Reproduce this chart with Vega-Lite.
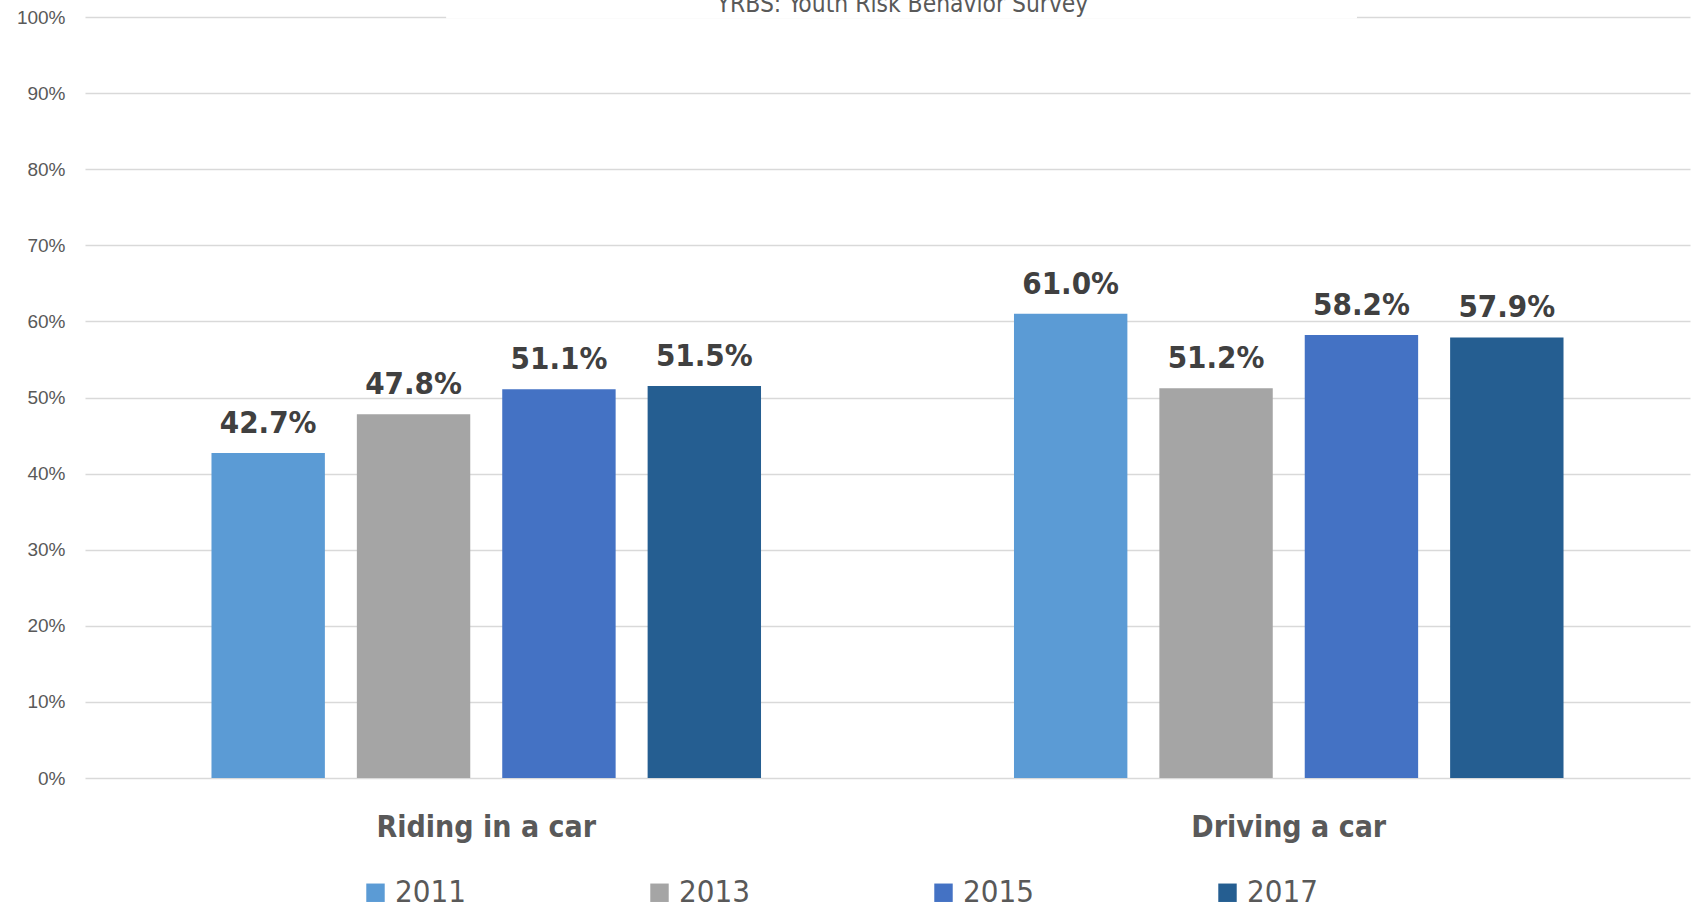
{
  "$schema": "https://vega.github.io/schema/vega-lite/v6.json",
  "autosize": "none",
  "width": 1605,
  "height": 761,
  "padding": {"left": 85, "top": 17, "right": 2, "bottom": 132},
  "background": "white",
  "title": {
    "text": "YRBS: Youth Risk Behavior Survey",
    "font": "DejaVu Sans Condensed, DejaVu Sans",
    "fontSize": 24.4,
    "fontWeight": "normal",
    "color": "#595959",
    "anchor": "middle",
    "baseline": "alphabetic",
    "offset": -28,
    "dx": 15
  },
  "config": {
    "view": {"stroke": null},
    "axisY": {
      "grid": true,
      "gridColor": "#d9d9d9",
      "gridWidth": 1.5,
      "domain": false,
      "ticks": false,
      "labelPadding": 20,
      "labelFont": "Liberation Sans",
      "labelFontSize": 19,
      "labelColor": "#595959"
    }
  },
  "datasets": {
    "bars": [
      {"behavior": "Riding in a car", "year": "2011", "value": 0.427},
      {"behavior": "Riding in a car", "year": "2013", "value": 0.478},
      {"behavior": "Riding in a car", "year": "2015", "value": 0.511},
      {"behavior": "Riding in a car", "year": "2017", "value": 0.515},
      {"behavior": "Driving a car", "year": "2011", "value": 0.610},
      {"behavior": "Driving a car", "year": "2013", "value": 0.512},
      {"behavior": "Driving a car", "year": "2015", "value": 0.582},
      {"behavior": "Driving a car", "year": "2017", "value": 0.579}
    ],
    "gap": [{"x1": 0.225, "x2": 0.7925, "y1": 0.998, "y2": 1.002}]
  },
  "layer": [
    {
      "data": {"name": "gap"},
      "mark": {"type": "rect", "color": "white"},
      "encoding": {
        "x": {"field": "x1", "type": "quantitative", "scale": {"domain": [0, 1], "nice": false, "zero": false}, "axis": null},
        "x2": {"field": "x2"},
        "y": {"field": "y1", "type": "quantitative", "scale": {"domain": [0, 1], "nice": false},
              "axis": {"title": null, "format": ".0%", "values": [0, 0.1, 0.2, 0.3, 0.4, 0.5, 0.6, 0.7, 0.8, 0.9, 1]}},
        "y2": {"field": "y2"}
      }
    },
    {
      "data": {"name": "bars"},
      "encoding": {
        "x": {
          "field": "behavior", "type": "nominal",
          "sort": ["Riding in a car", "Driving a car"],
          "scale": {"paddingInner": 0, "paddingOuter": 0},
          "axis": {
            "title": null, "labelAngle": 0, "domain": false, "ticks": false, "grid": false,
            "labelFont": "DejaVu Sans Condensed, DejaVu Sans", "labelFontWeight": "bold", "labelFontSize": 30,
            "labelColor": "#595959", "labelPadding": 34, "labelLimit": 0
          }
        },
        "xOffset": {"field": "year", "type": "nominal", "scale": {"paddingInner": 0.22, "paddingOuter": 0.87}},
        "y": {"field": "value", "type": "quantitative", "scale": {"domain": [0, 1], "nice": false},
              "axis": {"title": null, "format": ".0%", "values": [0, 0.1, 0.2, 0.3, 0.4, 0.5, 0.6, 0.7, 0.8, 0.9, 1]}}
      },
      "layer": [
        {
          "mark": {"type": "bar"},
          "encoding": {
            "color": {
              "field": "year", "type": "nominal",
              "scale": {"domain": ["2011", "2013", "2015", "2017"], "range": ["#5B9BD5", "#A5A5A5", "#4472C4", "#255E91"]},
              "legend": {
                "title": null, "orient": "none", "legendX": 275, "legendY": 860,
                "direction": "horizontal", "symbolType": "square", "symbolSize": 340,
                "labelFont": "DejaVu Sans Condensed, DejaVu Sans", "labelFontSize": 31, "labelColor": "#595959",
                "columnPadding": 178, "labelOffset": 4, "padding": 0, "labelLimit": 0
              }
            }
          }
        },
        {
          "mark": {"type": "text", "baseline": "alphabetic", "dy": -20, "font": "DejaVu Sans Condensed, DejaVu Sans", "fontWeight": "bold", "fontSize": 31, "color": "#404040"},
          "encoding": {
            "text": {"field": "value", "type": "quantitative", "format": ".1%"}
          }
        }
      ]
    }
  ],
  "resolve": {"scale": {"x": "independent"}}
}
